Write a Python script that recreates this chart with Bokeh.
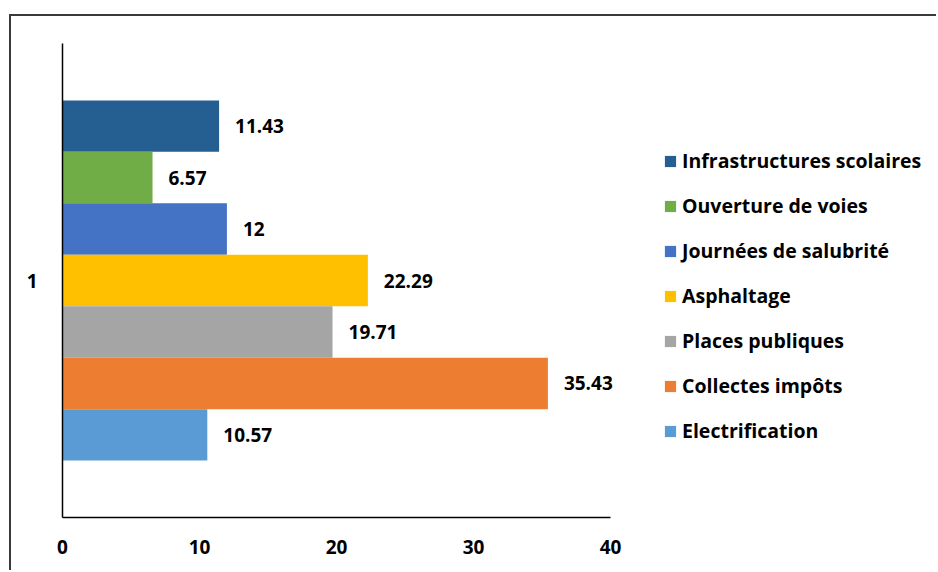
from bokeh.plotting import figure
from bokeh.models import Range1d, Legend, LegendItem, ColumnDataSource, FixedTicker
from bokeh.core.properties import value
from bokeh.embed import file_html
from bokeh.resources import INLINE

categories = ["Infrastructures scolaires", "Ouverture de voies", "Journées de salubrité",
              "Asphaltage", "Places publiques", "Collectes impôts", "Electrification"]
values = [11.43, 6.57, 12, 22.29, 19.71, 35.43, 10.57]
value_labels = ["11.43", "6.57", "12", "22.29", "19.71", "35.43", "10.57"]
colors = ["#255E91", "#70AD47", "#4472C4", "#FFC000", "#A5A5A5", "#ED7D31", "#5B9BD5"]
group_label = "1"
x_ticks = [0, 10, 20, 30, 40]

FONT = "Open Sans"
FS = "19px"
FS_LEG = "19.5px"

# layout (pixels)
W, H = 927, 556          # canvas inside the outer border
ML, MT, MB = 51, 27, 55  # frame margins
AX_PX = 548              # pixel length of the 0..40 axis
frame_w = W - ML
x_end = 40 * frame_w / AX_PX

n = len(categories)
span = 0.76
h = span / n
ys = [1 + (span / 2 - h / 2) - i * h for i in range(n)]

p = figure(width=W, height=H, output_backend="svg", toolbar_location=None,
           x_range=Range1d(0, x_end), y_range=Range1d(0.5, 1.5),
           min_border_left=ML, min_border_right=0, min_border_top=MT, min_border_bottom=MB)
p.styles = {"margin-left": "9px", "margin-top": "14px",
            "border-left": "2px solid #3a3a3a", "border-top": "2px solid #3a3a3a"}
p.outline_line_color = None
p.xgrid.visible = False
p.ygrid.visible = False

renderers = []
for i in range(n):
    src = ColumnDataSource(dict(y=[ys[i]], right=[values[i]], lab=[value_labels[i]]))
    r = p.hbar(y="y", left=0, right="right", height=h, source=src, fill_color=colors[i], line_color=None)
    renderers.append(r)
    p.text(x="right", y="y", text="lab", source=src, x_offset=16, text_align="left",
           text_baseline="middle", text_font=value(FONT), text_font_style="bold",
           text_font_size=FS, text_color="black")

for ax in (p.xaxis[0], p.yaxis[0]):
    ax.axis_line_color = "black"
    ax.axis_line_width = 1.5
    ax.major_tick_line_color = None
    ax.minor_tick_line_color = None
    ax.major_label_text_font = FONT
    ax.major_label_text_font_style = "bold"
    ax.major_label_text_font_size = FS
    ax.major_label_text_color = "black"

p.xaxis.ticker = FixedTicker(ticks=x_ticks)
p.xaxis.bounds = (0, 40)
p.xaxis.major_label_standoff = 16
p.yaxis.ticker = FixedTicker(ticks=[1])
p.yaxis.major_label_overrides = {1: group_label}
p.yaxis.major_label_standoff = 19

legend = Legend(items=[LegendItem(label=categories[i], renderers=[renderers[i]]) for i in range(n)],
                location=(601, 73), orientation="vertical")
legend.glyph_width = 14
legend.glyph_height = 14
legend.label_height = 27
legend.spacing = 18
legend.padding = 0
legend.margin = 0
legend.label_standoff = 5
legend.border_line_color = None
legend.background_fill_alpha = 0
legend.label_text_font = FONT
legend.label_text_font_style = "bold"
legend.label_text_font_size = FS_LEG
legend.label_text_color = "black"
p.add_layout(legend, "center")

open("out.html", "w").write(file_html(p, INLINE))
